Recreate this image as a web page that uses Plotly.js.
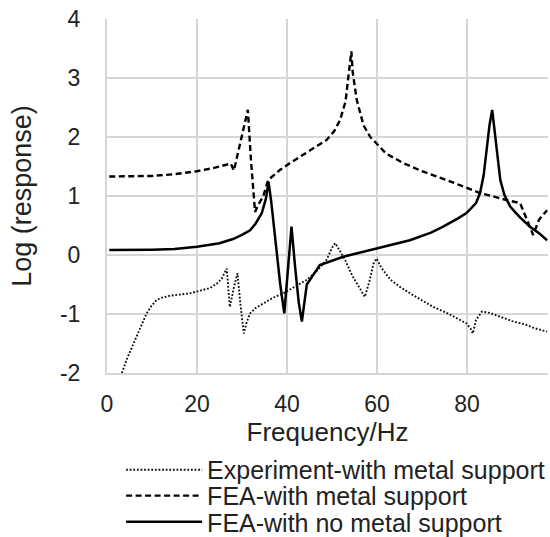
<!DOCTYPE html>
<html>
<head>
<meta charset="utf-8">
<script src="https://cdn.plot.ly/plotly-3.0.1.min.js"></script>
<style>html,body{margin:0;padding:0;background:#fff;} #chart{width:550px;height:537px;}</style>
</head>
<body>
<div id="chart"></div>
<script>
// Experiment-with metal support (dotted)
const expX = [3.3,4.5,5.9,7.3,8.8,9.8,10.8,11.8,14,18.4,22.9,24.5,25.5,26.6,27.3,28.2,29.0,29.6,30.4,31.0,31.8,33,34.7,37,39.2,42,44.4,46.5,48.8,50.0,50.7,51.5,52.9,54.5,56,57.3,58.3,59.2,59.9,61,63,65.1,68,72.5,76,79.9,80.8,81.3,82,83.3,85,87.3,90,93,95,97.8];
const expY = [-2.0,-1.75,-1.5,-1.25,-0.99,-0.87,-0.78,-0.73,-0.69,-0.65,-0.56,-0.48,-0.4,-0.23,-0.88,-0.55,-0.31,-0.8,-1.33,-1.15,-0.99,-0.9,-0.82,-0.72,-0.65,-0.53,-0.42,-0.28,-0.08,0.12,0.2,0.1,-0.08,-0.35,-0.55,-0.71,-0.45,-0.15,-0.06,-0.22,-0.42,-0.54,-0.68,-0.88,-1.0,-1.16,-1.25,-1.33,-1.1,-0.96,-0.98,-1.05,-1.12,-1.18,-1.24,-1.3];

// FEA-with metal support (dashed)
const feaMetalX = [0.5,5,10,15,20,24,27.5,28.2,29.5,31.3,32.0,32.9,33.6,34.7,35.8,38.4,40.7,44,48.8,50.5,51.8,53.0,53.6,54.3,54.6,55.5,57,58.5,59.9,62,65.8,70,75.5,80,82.9,86,88.8,91.8,93.3,94.7,96,97.8];
const feaMetalY = [1.33,1.33,1.34,1.37,1.42,1.48,1.55,1.43,1.85,2.46,1.6,0.73,0.85,0.99,1.27,1.44,1.56,1.72,1.95,2.1,2.29,2.6,2.97,3.45,3.1,2.63,2.2,2.0,1.89,1.72,1.56,1.42,1.27,1.13,1.05,0.99,0.93,0.88,0.6,0.34,0.6,0.76];

// FEA-with no metal support (solid)
const feaNoX = [0.5,5,10,15,20,25,28,30,31.8,33,34.4,35.3,35.9,36.5,37.5,38.5,39.4,40.2,41.0,41.8,42.6,43.3,44.4,47.3,52.5,59.9,67.3,72,74.7,78,79.9,82,82.9,83.7,84.4,85.0,85.6,86.2,86.8,87.4,88.3,89.6,91,92,94,96,97.8];
const feaNoY = [0.085,0.085,0.09,0.1,0.14,0.2,0.27,0.34,0.42,0.53,0.71,0.95,1.24,0.9,0.2,-0.5,-0.99,-0.2,0.48,-0.2,-0.8,-1.13,-0.5,-0.17,-0.03,0.11,0.25,0.38,0.48,0.62,0.71,0.88,1.05,1.35,1.78,2.2,2.46,2.05,1.61,1.27,1.02,0.82,0.7,0.62,0.48,0.37,0.25];

const seriesNames = ['Experiment-with metal support','FEA-with metal support','FEA-with no metal support'];
const xTicks = [0,20,40,60,80];
const yTicks = [-2,-1,0,1,2,3,4];

const FONT = 'Liberation Sans, Arial, sans-serif';
const traces = [
  {x: expX, y: expY, name: seriesNames[0], legend: 'legend', mode: 'lines', line: {color: '#111', width: 1.9, dash: '1.8px,1.8px'}},
  {x: feaMetalX, y: feaMetalY, name: seriesNames[1], legend: 'legend2', mode: 'lines', line: {color: '#000', width: 2.4, dash: '6px,3.5px'}},
  {x: feaNoX, y: feaNoY, name: seriesNames[2], legend: 'legend3', mode: 'lines', line: {color: '#000', width: 2.5}}
];

function legendAt(yc) {
  return {
    x: 0.032, xanchor: 'left', y: yc, yanchor: 'middle',
    font: {family: FONT, size: 25, color: '#222'},
    bgcolor: 'rgba(0,0,0,0)', itemwidth: 76
  };
}

const layout = {
  width: 550, height: 537,
  margin: {l: 107, r: 2, t: 19, b: 164, autoexpand: false},
  paper_bgcolor: '#fff', plot_bgcolor: '#fff',
  font: {family: FONT, color: '#222', size: 22},
  showlegend: true,
  legend: legendAt(-0.274),
  legend2: legendAt(-0.347),
  legend3: legendAt(-0.421),
  xaxis: {
    range: [0, 98], tickvals: xTicks, ticktext: xTicks.map(String),
    showgrid: true, gridcolor: '#d6d6d6', gridwidth: 2,
    zeroline: false, showline: true, linecolor: '#d6d6d6', linewidth: 2,
    ticks: '', ticklabelstandoff: 9,
    tickfont: {family: FONT, size: 23, color: '#222'},
    title: {text: 'Frequency/Hz', font: {family: FONT, size: 26, color: '#222'}, standoff: 0},
    automargin: false
  },
  yaxis: {
    range: [-2, 4], tickvals: yTicks, ticktext: yTicks.map(String),
    showgrid: true, gridcolor: '#d6d6d6', gridwidth: 2,
    zeroline: false, showline: true, linecolor: '#d6d6d6', linewidth: 2,
    ticks: '', ticklabelstandoff: 20,
    tickfont: {family: FONT, size: 23, color: '#222'},
    title: {text: 'Log (response)', font: {family: FONT, size: 27, color: '#222'}, standoff: 20},
    automargin: false
  }
};

Plotly.newPlot('chart', traces, layout, {staticPlot: true});
</script>
</body>
</html>
